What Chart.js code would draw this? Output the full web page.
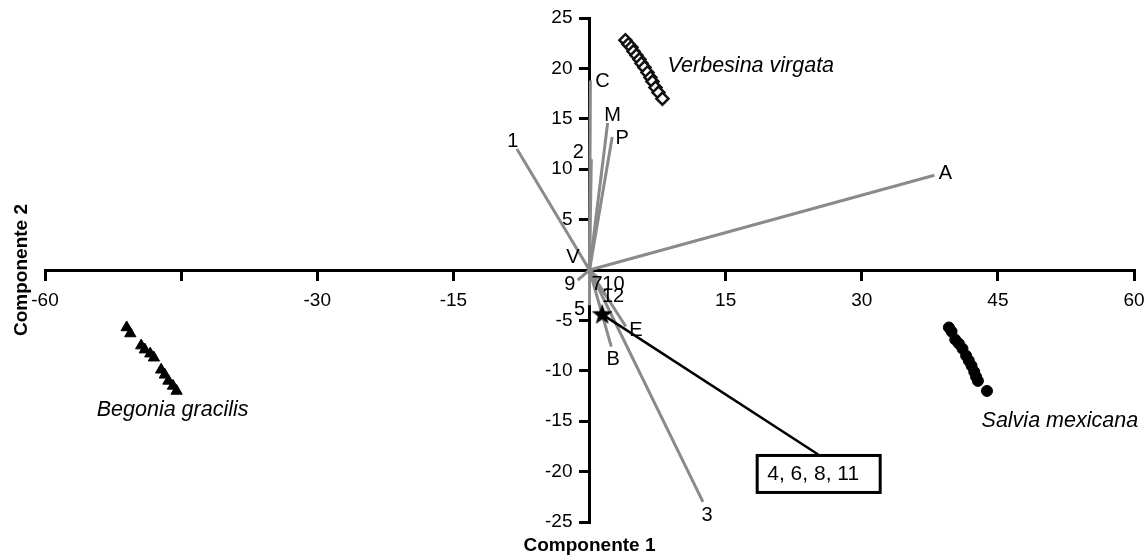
<!DOCTYPE html>
<html>
<head>
<meta charset="utf-8">
<script src="https://cdn.jsdelivr.net/npm/chart.js@4/dist/chart.umd.min.js"></script>
<style>
html, body { margin: 0; padding: 0; background: #fff; }
#wrap { width: 1147px; height: 559px; position: relative; }
</style>
</head>
<body>
<div id="wrap"><canvas id="biplot"></canvas></div>
<script>
// Biplot: Componente 1 vs Componente 2

const xTicks = [-60, -45, -30, -15, 0, 15, 30, 45, 60];
const xTickLabels = ["-60", "", "-30", "-15", "", "15", "30", "45", "60"];
const yTicks = [-25, -20, -15, -10, -5, 0, 5, 10, 15, 20, 25];
const yTickLabels = ["-25", "-20", "-15", "-10", "-5", "", "5", "10", "15", "20", "25"];

// variable vectors (from origin)
const varNames = ["1", "2", "C", "M", "P", "A", "V", "9", "7", "10", "12", "5", "E", "B", "3"];
const varX = [-8.0, 0.2, 0.1, 2.0, 2.5, 38.0, -0.4, -1.3, 0.4, 1.2, 1.6, 0.0, 4.0, 2.4, 12.5];
const varY = [12.0, 11.0, 18.8, 14.6, 13.2, 9.4, 0.6, -1.0, -1.0, -1.0, -2.4, -3.5, -5.6, -7.6, -23.0];

// grouped variables 4, 6, 8, 11
const groupName = "4, 6, 8, 11";
const groupX = 1.4;
const groupY = -4.4;
const groupBoxX = 25.2;
const groupBoxY = -18.3;

// species scores
const verbesinaX = [3.96, 4.29, 4.62, 4.84, 5.17, 5.50, 5.73, 6.06, 6.39, 6.72, 6.94, 7.27, 7.60, 8.04];
const verbesinaY = [22.8, 22.4, 22.1, 21.7, 21.3, 20.9, 20.5, 20.1, 19.6, 19.1, 18.7, 18.1, 17.6, 17.0];
const begoniaX = [-51.0, -50.6, -49.4, -49.0, -48.4, -48.0, -47.2, -46.8, -46.4, -45.9, -45.5];
const begoniaY = [-5.7, -6.3, -7.5, -7.9, -8.3, -8.7, -9.9, -10.4, -11.0, -11.5, -12.0];
const salviaX = [39.6, 39.9, 40.3, 40.7, 41.1, 41.5, 41.8, 42.1, 42.4, 42.6, 42.8, 43.8];
const salviaY = [-5.7, -6.1, -6.9, -7.3, -7.8, -8.5, -9.0, -9.5, -10.1, -10.6, -11.0, -12.0];

const speciesNames = ["Verbesina virgata", "Begonia gracilis", "Salvia mexicana"];

// label placement (pixels from vector tip)
const labelDx = [-4, -13, 12, 5, 10, 11, -13, -8, 4, 13, 9, -10, 10, 2, 4];
const labelDy = [-8, -7, 1, -7, 2, -2, -6, 4, 4, 4, 2, 4, 4, 13, 14];
const speciesPos = [[8.6, 20.2], [-54.3, -13.9], [43.2, -15.0]];

const FONT = 'Arial, "Liberation Sans", sans-serif';
const GREY = "#8a8a8a";

function pts(xs, ys) {
	return xs.map((v, i) => ({ x: v, y: ys[i] }));
}

// filled star marker
const starImg = document.createElement("canvas");
starImg.width = 24;
starImg.height = 24;
(function () {
	const c = starImg.getContext("2d");
	c.beginPath();
	for (let i = 0; i < 10; i++) {
		const r = i % 2 === 0 ? 11 : 4.5;
		const a = -Math.PI / 2 + i * Math.PI / 5;
		const px = 12 + r * Math.cos(a);
		const py = 12.5 + r * Math.sin(a);
		if (i === 0) c.moveTo(px, py); else c.lineTo(px, py);
	}
	c.closePath();
	c.fillStyle = "#000";
	c.fill();
})();

const vectorSets = varNames.map((n, i) => ({
	label: n,
	data: [{ x: 0, y: 0 }, { x: varX[i], y: varY[i] }],
	showLine: true,
	borderColor: GREY,
	borderWidth: 3,
	pointRadius: 0,
	order: 5,
}));

const biplotData = {
	datasets: [
		{
			label: "grupo",
			data: [{ x: groupX, y: groupY }],
			pointStyle: starImg,
			pointRadius: 12,
			order: 0,
		},
		{
			label: "guia",
			data: [{ x: groupX, y: groupY }, { x: groupBoxX, y: groupBoxY }],
			showLine: true,
			borderColor: "#000",
			borderWidth: 2.5,
			pointRadius: 0,
			order: 1,
		},
		{
			label: speciesNames[0],
			data: pts(verbesinaX, verbesinaY),
			pointStyle: "rectRot",
			pointRadius: 6,
			backgroundColor: "#fff",
			borderColor: "#111",
			borderWidth: 2.5,
			order: 2,
		},
		{
			label: speciesNames[1],
			data: pts(begoniaX, begoniaY),
			pointStyle: "triangle",
			pointRadius: 6.5,
			backgroundColor: "#000",
			borderColor: "#000",
			borderWidth: 1,
			order: 2,
		},
		{
			label: speciesNames[2],
			data: pts(salviaX, salviaY),
			pointStyle: "circle",
			pointRadius: 5.5,
			backgroundColor: "#000",
			borderColor: "#000",
			borderWidth: 1,
			order: 2,
		},
		...vectorSets,
	],
};

const textPlugin = {
	id: "biplotText",
	afterDatasetsDraw(chart) {
		const { ctx, scales } = chart;
		const sx = scales.x;
		const sy = scales.y;
		ctx.save();
		ctx.fillStyle = "#000";
		ctx.textAlign = "center";
		ctx.textBaseline = "middle";
		ctx.font = "20px " + FONT;
		varNames.forEach((n, i) => {
			ctx.fillText(n, sx.getPixelForValue(varX[i]) + labelDx[i], sy.getPixelForValue(varY[i]) + labelDy[i]);
		});

		// box for grouped variables
		const bx = sx.getPixelForValue(groupBoxX);
		const by = sy.getPixelForValue(groupBoxY);
		ctx.fillStyle = "#fff";
		ctx.fillRect(bx - 61, by + 1, 123, 37);
		ctx.strokeStyle = "#000";
		ctx.lineWidth = 3;
		ctx.strokeRect(bx - 61, by + 1, 123, 37);
		ctx.fillStyle = "#000";
		ctx.font = "21px " + FONT;
		ctx.fillText(groupName, bx - 5, by + 20);

		// species names
		ctx.font = "italic 21.5px " + FONT;
		ctx.textAlign = "left";
		speciesNames.forEach((n, i) => {
			ctx.fillText(n, sx.getPixelForValue(speciesPos[i][0]), sy.getPixelForValue(speciesPos[i][1]));
		});

		// axis titles
		ctx.font = "bold 19px " + FONT;
		ctx.textAlign = "center";
		ctx.fillText("Componente 1", sx.getPixelForValue(0), 546);
		ctx.translate(22, sy.getPixelForValue(0));
		ctx.rotate(-Math.PI / 2);
		ctx.fillText("Componente 2", 0, 0);
		ctx.restore();
	},
};

function noPad(scale) {
	scale.paddingLeft = 0;
	scale.paddingRight = 0;
	scale.paddingTop = 0;
	scale.paddingBottom = 0;
}

const biplotConfig = {
	type: "scatter",
	data: biplotData,
	options: {
		responsive: true,
		maintainAspectRatio: false,
		animation: false,
		layout: { padding: { left: 45, right: 12, top: 18, bottom: 37 } },
		plugins: { legend: { display: false }, tooltip: { enabled: false } },
		scales: {
			x: {
				type: "linear",
				position: "center",
				min: -60,
				max: 60,
				afterBuildTicks: (axis) => { axis.ticks = xTicks.map((v) => ({ value: v })); },
				afterFit: noPad,
				ticks: {
					autoSkip: false,
					maxRotation: 0,
					color: "#000",
					padding: 10,
					font: { size: 19, family: FONT },
					callback: (v, i) => xTickLabels[i],
				},
				grid: { drawOnChartArea: false, drawTicks: true, tickLength: 9, color: "#000", lineWidth: 3 },
				border: { color: "#000", width: 3 },
			},
			y: {
				type: "linear",
				position: "center",
				min: -25,
				max: 25,
				afterBuildTicks: (axis) => { axis.ticks = yTicks.map((v) => ({ value: v })); },
				afterFit: noPad,
				ticks: {
					autoSkip: false,
					color: "#000",
					padding: 8,
					font: { size: 19, family: FONT },
					callback: (v, i) => yTickLabels[i],
				},
				grid: { drawOnChartArea: false, drawTicks: true, tickLength: 9, color: "#000", lineWidth: 3 },
				border: { color: "#000", width: 3 },
			},
		},
	},
	plugins: [textPlugin],
};

const biplotChart = new Chart(document.getElementById("biplot"), biplotConfig);
</script>
</body>
</html>
